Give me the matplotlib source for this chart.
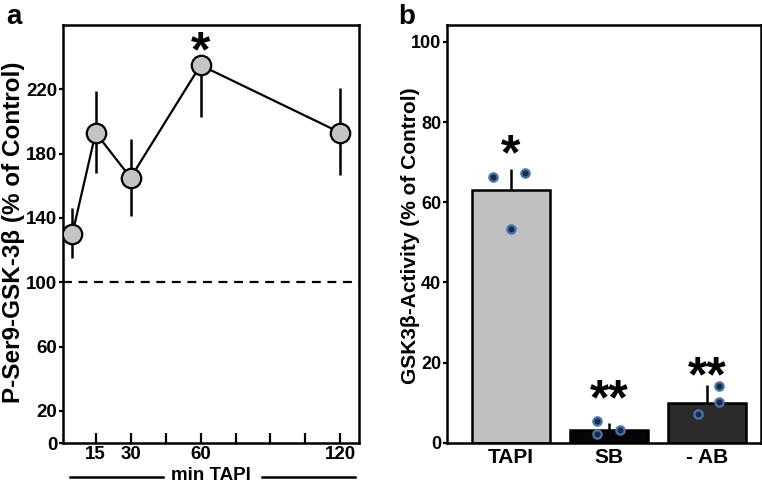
import numpy as np
import matplotlib
matplotlib.use('Agg')
from matplotlib import pyplot as plt

plt.rcParams['font.family'] = ['Liberation Sans', 'DejaVu Sans']
plt.rcParams['font.weight'] = 'bold'

# panel a: time course
t_min = [5, 15, 30, 60, 120]
pser9 = [130, 193, 165, 235, 193]
err_lo = [15, 25, 24, 32, 26]
err_hi = [16, 26, 24, 0, 28]
xtick_pos = [15, 30, 45, 60, 75, 90, 105, 120]
xtick_lab = ['15', '30', '', '60', '', '', '', '120']
ytick_a = [0, 20, 60, 100, 140, 180, 220]

# panel b: activity
groups = ['TAPI', 'SB', '- AB']
activity = [63, 3.2, 10]
act_err = [5.4, 1.8, 4.4]
bar_cols = ['#c0c0c0', '#050505', '#2b2b2b']
pts_x = [[-0.18, 0.14, 0.0], [-0.12, -0.12, 0.11], [-0.09, 0.12, 0.12]]
pts_y = [[66.3, 67.4, 53.4], [5.5, 2.1, 3.2], [7.1, 14.2, 10.1]]
stars = ['*', '**', '**']
star_y = [71.4, 10.4, 16.2]
ytick_b = [0, 20, 40, 60, 80, 100]

fig = plt.figure(figsize=(7.62, 4.83), dpi=100)

ax = fig.add_axes([0.0827, 0.0828, 0.3885, 0.8654])
ax.axhline(100, color='k', ls=(0, (4, 3)), lw=1.6)
ax.errorbar(t_min, pser9, yerr=[err_lo, err_hi], fmt='none', ecolor='k', elinewidth=1.8, capsize=0, zorder=2)
ax.plot(t_min, pser9, '-o', color='k', lw=1.6, ms=14, mfc='#c4c4c4', mec='k', mew=1.6, zorder=3)
ax.text(60, 242.7, '*', ha='center', va='center', fontsize=36, fontweight='bold')
ax.set_xlim(1, 128)
ax.set_ylim(0, 260)
ax.set_xticks(xtick_pos)
ax.set_xticklabels(xtick_lab)
ax.set_yticks(ytick_a)
ax.tick_params(axis='x', direction='in', length=7, width=1.6, labelsize=13.5, pad=2)
ax.tick_params(axis='y', direction='out', length=3, width=1.6, labelsize=13.5, pad=1)
for s in ax.spines.values():
    s.set_linewidth(1.8)
ax.set_ylabel('P-Ser9-GSK-3β (% of Control)', fontsize=17.5, fontweight='bold')
ax.yaxis.set_label_coords(-0.128, 0.505)
ax.text(0.5, -0.0875, 'min TAPI', transform=ax.transAxes, ha='center', va='baseline', fontsize=13.5, fontweight='bold')
ax.plot([0.024, 0.338], [-0.082, -0.082], transform=ax.transAxes, color='k', lw=1.8, clip_on=False)
ax.plot([0.672, 0.986], [-0.082, -0.082], transform=ax.transAxes, color='k', lw=1.8, clip_on=False)
fig.text(0.008, 0.965, 'a', fontsize=20, fontweight='bold', va='center')

bx = fig.add_axes([0.5862, 0.0831, 0.4125, 0.865])
xpos = np.arange(len(groups))
bx.bar(xpos, activity, width=0.8, color=bar_cols, edgecolor='k', linewidth=1.8, zorder=2)
bx.errorbar(xpos, activity, yerr=[[0, 0, 0], act_err], fmt='none', ecolor='k', elinewidth=1.8, capsize=0, zorder=1)
for i in range(len(groups)):
    bx.plot(xpos[i] + np.array(pts_x[i]), pts_y[i], 'o', ms=6, mfc='#1c2b44', mec='#4a74b0', mew=1.6, zorder=4)
    bx.text(xpos[i], star_y[i], stars[i], ha='center', va='center', fontsize=36, fontweight='bold')
bx.set_xlim(-0.656, 2.55)
bx.set_ylim(0, 104.2)
bx.set_xticks(xpos)
bx.set_xticklabels(groups)
bx.set_yticks(ytick_b)
bx.tick_params(axis='x', length=0, labelsize=15, pad=4)
bx.tick_params(axis='y', direction='out', length=3, width=1.6, labelsize=13, pad=1)
for s in bx.spines.values():
    s.set_linewidth(1.8)
bx.set_ylabel('GSK3β-Activity (% of Control)', fontsize=15, fontweight='bold')
bx.yaxis.set_label_coords(-0.085, 0.497)
fig.text(0.522, 0.965, 'b', fontsize=20, fontweight='bold', va='center')

fig.savefig('out.png', dpi=100)
